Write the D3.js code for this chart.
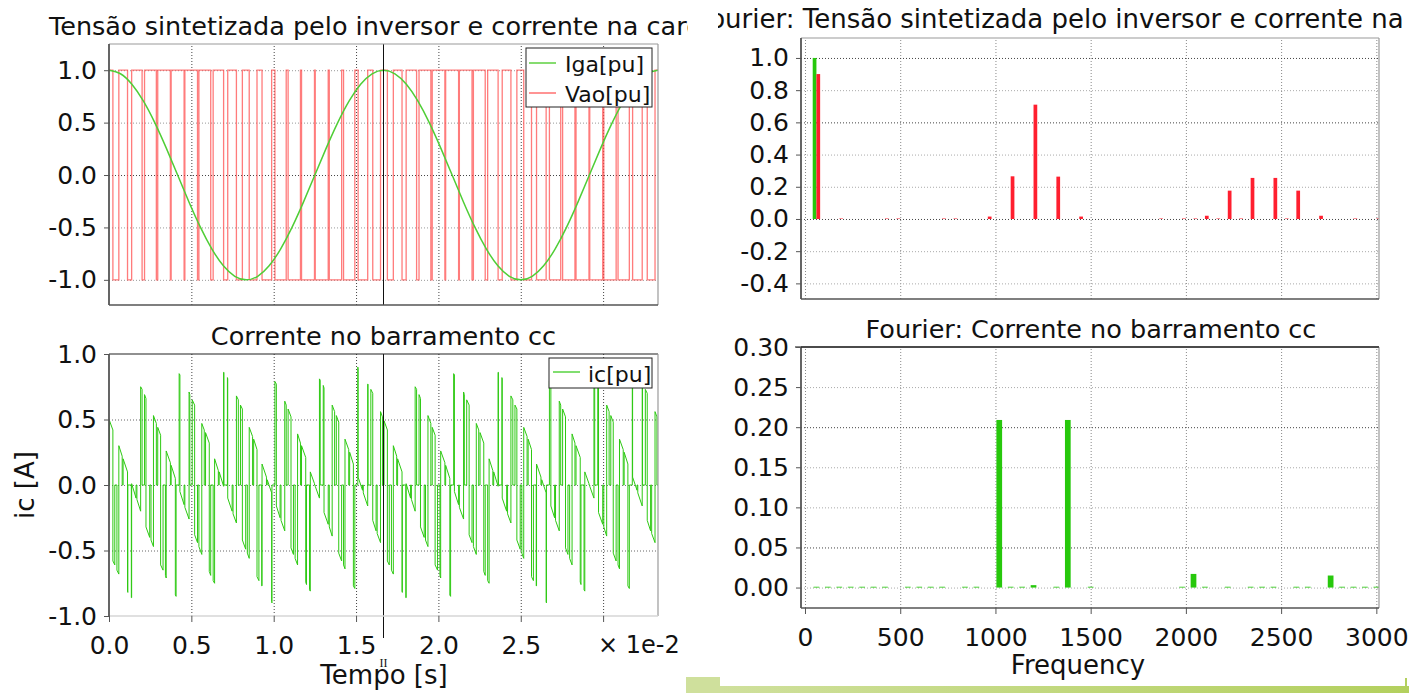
<!DOCTYPE html>
<html>
<head>
<meta charset="utf-8">
<script src="https://cdn.jsdelivr.net/npm/d3@7"></script>
<style>
  html, body { margin: 0; padding: 0; background: #fff; }
  svg { display: block; font-family: "DejaVu Sans", Verdana, sans-serif; }
</style>
</head>
<body>
<svg id="chart" width="1409" height="693"></svg>
<script>
// ---------------------------------------------------------------------------
// Data. Time-domain traces use electrical degrees of the 60 Hz fundamental
// (720 deg = two cycles = 3.333e-2 s).
// ---------------------------------------------------------------------------

// Load current Iga [pu], sampled every 15 deg
const igaDeg = [0,15,30,45,60,75,90,105,120,135,150,165,180,195,210,225,240,255,270,285,300,315,330,345,360,
                375,390,405,420,435,450,465,480,495,510,525,540,555,570,585,600,615,630,645,660,675,690,705,720];
const igaVal = [1,0.966,0.866,0.707,0.5,0.259,0,-0.259,-0.5,-0.707,-0.866,-0.966,-1,-0.966,-0.866,-0.707,-0.5,-0.259,0,0.259,0.5,0.707,0.866,0.966,1,
                0.966,0.866,0.707,0.5,0.259,0,-0.259,-0.5,-0.707,-0.866,-0.966,-1,-0.966,-0.866,-0.707,-0.5,-0.259,0,0.259,0.5,0.707,0.866,0.966,1];

// Inverter leg voltage Vao [pu]: intervals (start, end, in deg) where it sits at -1; +1 elsewhere
const vaoLowDeg = [
  [5.1,12.9],[24.3,29.7],[43.4,46.6],[62.1,63.9],[80.5,81.5],[98.5,99.5],[116.1,117.9],[133.4,136.6],
  [150.3,155.7],[167.1,174.9],[183.9,194.1],[200.7,213.3],[217.6,232.4],[234.9,251.1],[252.5,269.5],
  [270.5,287.5],[288.9,305.1],[307.6,322.4],[326.7,339.3],[345.9,356.1],
  [365.1,372.9],[384.3,389.7],[403.4,406.6],[422.1,423.9],[440.5,441.5],[458.5,459.5],[476.1,477.9],[493.4,496.6],
  [510.3,515.7],[527.1,534.9],[543.9,554.1],[560.7,573.3],[577.6,592.4],[594.9,611.1],[612.5,629.5],
  [630.5,647.5],[648.9,665.1],[667.6,682.4],[686.7,699.3],[705.9,716.1]
];

// DC-bus current ic [pu]: conduction pulses [startDeg, endDeg, startValue, endValue]; 0 between pulses
const icPulses = [
  [0.7,5.1,0.49,0.42],[5.1,7.6,-0.58,-0.61],[10.4,12.9,-0.65,-0.68],[12.9,17.3,0.30,0.22],
  [18.5,24.3,0.20,0.10],[24.3,24.7,-0.81,-0.82],[29.3,29.7,-0.86,-0.86],[29.7,35.5,0.01,-0.10],
  [36.6,41.5,-0.11,-0.20],[41.5,43.4,0.75,0.73],[46.6,48.5,0.69,0.66],[48.5,53.4,-0.32,-0.40],
  [55.1,58.3,-0.42,-0.47],[58.3,62.1,0.53,0.47],[63.9,67.7,0.44,0.38],[67.7,70.9,-0.61,-0.65],
  [74.0,75.0,-0.69,-0.71],[75.0,80.5,0.26,0.17],[81.5,87.0,0.15,0.05],[87.0,88.0,-0.84,-0.85],
  [92.0,93.0,0.85,0.84],[93.0,98.5,-0.05,-0.15],[99.5,105.0,-0.17,-0.26],[105.0,106.0,0.71,0.69],
  [109.1,112.3,0.65,0.61],[112.3,116.1,-0.38,-0.44],[117.9,121.7,-0.47,-0.53],[121.7,124.9,0.47,0.42],
  [126.6,131.5,0.40,0.32],[131.5,133.4,-0.66,-0.69],[136.6,138.5,-0.73,-0.75],[138.5,143.4,0.20,0.11],
  [144.5,150.3,0.10,-0.01],[150.3,150.7,0.86,0.86],[155.3,155.7,0.82,0.81],[155.7,161.5,-0.10,-0.20],
  [162.7,167.1,-0.22,-0.29],[167.1,169.6,0.68,0.65],[172.4,174.9,0.61,0.58],[174.9,179.3,-0.42,-0.49],
  [181.4,183.9,-0.52,-0.56],[183.9,188.3,0.44,0.37],[189.7,194.1,0.35,0.27],[194.1,196.6,-0.70,-0.73],
  [200.3,200.7,-0.77,-0.77],[200.7,206.5,0.16,0.06],[207.5,213.3,0.04,-0.06],[213.3,213.7,-0.89,-0.90],
  [217.6,219.5,0.79,0.77],[219.5,224.4,-0.16,-0.25],[225.6,230.5,-0.27,-0.35],[230.5,232.4,0.64,0.61],
  [234.9,238.7,0.58,0.52],[238.7,241.9,-0.48,-0.53],[244.1,247.3,-0.56,-0.61],[247.3,251.1,0.39,0.32],
  [252.5,258.0,0.30,0.21],[258.0,259.0,-0.74,-0.76],[263.0,264.0,-0.80,-0.81],[264.0,269.5,0.10,0.01],
  [270.5,276.0,-0.01,-0.10],[276.0,277.0,0.81,0.80],[281.0,282.0,0.76,0.74],[282.0,287.5,-0.21,-0.30],
  [288.9,292.7,-0.32,-0.39],[292.7,295.9,0.61,0.56],[298.1,301.3,0.53,0.48],[301.3,305.1,-0.52,-0.58],
  [307.6,309.5,-0.61,-0.64],[309.5,314.4,0.35,0.27],[315.6,320.5,0.25,0.16],[320.5,322.4,-0.77,-0.79],
  [326.3,326.7,0.90,0.89],[326.7,332.5,0.06,-0.04],[333.5,339.3,-0.06,-0.16],[339.3,339.7,0.77,0.77],
  [343.4,345.9,0.73,0.70],[345.9,350.3,-0.27,-0.35],[351.7,356.1,-0.37,-0.44],[356.1,358.6,0.56,0.52],
  [360.7,365.1,0.49,0.42],[365.1,367.6,-0.58,-0.61],[370.4,372.9,-0.65,-0.68],[372.9,377.3,0.30,0.22],
  [378.5,384.3,0.20,0.10],[384.3,384.7,-0.81,-0.82],[389.3,389.7,-0.86,-0.86],[389.7,395.5,0.01,-0.10],
  [396.6,401.5,-0.11,-0.20],[401.5,403.4,0.75,0.73],[406.6,408.5,0.69,0.66],[408.5,413.4,-0.32,-0.40],
  [415.1,418.3,-0.42,-0.47],[418.3,422.1,0.53,0.47],[423.9,427.7,0.44,0.38],[427.7,430.9,-0.61,-0.65],
  [434.0,435.0,-0.69,-0.71],[435.0,440.5,0.26,0.17],[441.5,447.0,0.15,0.05],[447.0,448.0,-0.84,-0.85],
  [452.0,453.0,0.85,0.84],[453.0,458.5,-0.05,-0.15],[459.5,465.0,-0.17,-0.26],[465.0,466.0,0.71,0.69],
  [469.1,472.3,0.65,0.61],[472.3,476.1,-0.38,-0.44],[477.9,481.7,-0.47,-0.53],[481.7,484.9,0.47,0.42],
  [486.6,491.5,0.40,0.32],[491.5,493.4,-0.66,-0.69],[496.6,498.5,-0.73,-0.75],[498.5,503.4,0.20,0.11],
  [504.5,510.3,0.10,-0.01],[510.3,510.7,0.86,0.86],[515.3,515.7,0.82,0.81],[515.7,521.5,-0.10,-0.20],
  [522.7,527.1,-0.22,-0.29],[527.1,529.6,0.68,0.65],[532.4,534.9,0.61,0.58],[534.9,539.3,-0.42,-0.49],
  [541.4,543.9,-0.52,-0.56],[543.9,548.3,0.44,0.37],[549.7,554.1,0.35,0.27],[554.1,556.6,-0.70,-0.73],
  [560.3,560.7,-0.77,-0.77],[560.7,566.5,0.16,0.06],[567.5,573.3,0.04,-0.06],[573.3,573.7,-0.89,-0.90],
  [577.6,579.5,0.79,0.77],[579.5,584.4,-0.16,-0.25],[585.6,590.5,-0.27,-0.35],[590.5,592.4,0.64,0.61],
  [594.9,598.7,0.58,0.52],[598.7,601.9,-0.48,-0.53],[604.1,607.3,-0.56,-0.61],[607.3,611.1,0.39,0.32],
  [612.5,618.0,0.30,0.21],[618.0,619.0,-0.74,-0.76],[623.0,624.0,-0.80,-0.81],[624.0,629.5,0.10,0.01],
  [630.5,636.0,-0.01,-0.10],[636.0,637.0,0.81,0.80],[641.0,642.0,0.76,0.74],[642.0,647.5,-0.21,-0.30],
  [648.9,652.7,-0.32,-0.39],[652.7,655.9,0.61,0.56],[658.1,661.3,0.53,0.48],[661.3,665.1,-0.52,-0.58],
  [667.6,669.5,-0.61,-0.64],[669.5,674.4,0.35,0.27],[675.6,680.5,0.25,0.16],[680.5,682.4,-0.77,-0.79],
  [686.3,686.7,0.90,0.89],[686.7,692.5,0.06,-0.04],[693.5,699.3,-0.06,-0.16],[699.3,699.7,0.77,0.77],
  [703.4,705.9,0.73,0.70],[705.9,710.3,-0.27,-0.35],[711.7,716.1,-0.37,-0.44],[716.1,718.6,0.56,0.52]
];

const cursorDeg = 360;

// Harmonic spectra (frequency in Hz, amplitude in pu)
const igaHarmHz  = [60];
const igaHarmAmp = [1.0];
const vaoHarmHz  = [60, 180, 420, 480, 720, 780, 960, 1080, 1200, 1320, 1440, 1860, 1980, 2040, 2100,
                    2160, 2220, 2280, 2340, 2460, 2520, 2580, 2700, 2880, 3000];
const vaoHarmAmp = [0.90, 0.003, 0.003, 0.003, 0.003, 0.003, 0.015, 0.265, 0.71, 0.263, 0.015, 0.003, 0.003, 0.003, 0.02,
                    0.003, 0.176, 0.003, 0.255, 0.255, 0.003, 0.176, 0.02, 0.003, 0.003];
const icHarmHz   = [60, 120, 180, 240, 300, 360, 420, 540, 600, 660, 720, 840, 900, 1020, 1080, 1140, 1200,
                    1320, 1380, 1500, 1980, 2040, 2100, 2220, 2340, 2400, 2460, 2580, 2640, 2760, 2820, 2880, 2940, 3000];
const icHarmAmp  = [0.001, 0.001, 0.001, 0.001, 0.001, 0.001, 0.001, 0.001, 0.001, 0.001, 0.001, 0.001, 0.001, 0.209, 0.001, 0.001, 0.003,
                    0.001, 0.209, 0.001, 0.001, 0.017, 0.001, 0.001, 0.001, 0.001, 0.001, 0.001, 0.001, 0.015, 0.001, 0.001, 0.001, 0.001];

// Axis ticks and labels
const timeTicks       = [0, 0.5, 1.0, 1.5, 2.0, 2.5, 3.0];          // x 1e-2 s
const timeTickLabels  = ["0.0", "0.5", "1.0", "1.5", "2.0", "2.5", ""];
const wfTicks         = [-1, -0.5, 0, 0.5, 1];
const wfTickLabels    = ["-1.0", "-0.5", "0.0", "0.5", "1.0"];
const freqTicks       = [0, 500, 1000, 1500, 2000, 2500, 3000];
const freqTickLabels  = ["0", "500", "1000", "1500", "2000", "2500", "3000"];
const vSpecTicks      = [-0.4, -0.2, 0, 0.2, 0.4, 0.6, 0.8, 1.0];
const vSpecTickLabels = ["-0.4", "-0.2", "0.0", "0.2", "0.4", "0.6", "0.8", "1.0"];
const iSpecTicks      = [0, 0.05, 0.10, 0.15, 0.20, 0.25, 0.30];
const iSpecTickLabels = ["0.00", "0.05", "0.10", "0.15", "0.20", "0.25", "0.30"];

// ---------------------------------------------------------------------------
// Layout
// ---------------------------------------------------------------------------
const TL = { x0: 109, x1: 658, y0: 44,  y1: 305 };
const BL = { x0: 109, x1: 658, y0: 354, y1: 616 };
const TR = { x0: 801, x1: 1379, y0: 38,  y1: 299 };
const BR = { x0: 801, x1: 1379, y0: 347, y1: 608 };

const RED = "#ff1f2f", GREEN = "#27c80c";
const TICK_FONT = 25, TITLE_FONT = 25.5;

const svg = d3.select("#chart");
const defs = svg.append("defs");
function clipRect(id, x, y, w, h) {
  defs.append("clipPath").attr("id", id).append("rect")
    .attr("x", x).attr("y", y).attr("width", w).attr("height", h);
}
clipRect("panelL", 0, 0, 688, 693);
clipRect("panelR", 718, 0, 691, 693);
[["cTL", TL], ["cBL", BL], ["cTR", TR], ["cBR", BR]].forEach(([id, r]) =>
  clipRect(id, r.x0, r.y0, r.x1 - r.x0, r.y1 - r.y0));

svg.append("rect").attr("width", 1409).attr("height", 693).attr("fill", "#fff");

const left = svg.append("g").attr("clip-path", "url(#panelL)");
const right = svg.append("g").attr("clip-path", "url(#panelR)");

// Scales
const degX  = d3.scaleLinear().domain([0, 720]).range([TL.x0, TL.x1]);
const timeX = d3.scaleLinear().domain([0, 10 / 3]).range([TL.x0, TL.x1]);
const yTL   = d3.scaleLinear().domain([-1.24, 1.25]).range([TL.y1, TL.y0]);
const yBL   = d3.scaleLinear().domain([-1, 1]).range([BL.y1, BL.y0]);
const fX    = d3.scaleLinear().domain([-21, 3014]).range([TR.x0, TR.x1]);
const yTR   = d3.scaleLinear().domain([-0.497, 1.124]).range([TR.y1, TR.y0]);
const yBR   = d3.scaleLinear().domain([-0.0255, 0.30]).range([BR.y1, BR.y0]);

// Dotted grid lines drawn with axis generators
function gridX(g, r, scale, values, color) {
  g.append("g").attr("transform", `translate(0,${r.y1})`)
    .call(d3.axisBottom(scale).tickValues(values).tickSize(-(r.y1 - r.y0)).tickFormat(""))
    .call(a => a.select(".domain").remove())
    .call(a => a.selectAll("line").attr("stroke", color).attr("stroke-dasharray", "1,2"));
}
function gridY(g, r, scale, values, colorFn) {
  g.append("g").attr("transform", `translate(${r.x0},0)`)
    .call(d3.axisLeft(scale).tickValues(values).tickSize(-(r.x1 - r.x0)).tickFormat(""))
    .call(a => a.select(".domain").remove())
    .call(a => a.selectAll("line").attr("stroke", d => colorFn(d)).attr("stroke-dasharray", "1,2"));
}
function yAxis(g, r, scale, values, labels) {
  g.append("g").attr("transform", `translate(${r.x0},0)`)
    .call(d3.axisLeft(scale).tickValues(values).tickSize(5).tickPadding(7)
      .tickFormat((d, i) => labels[i]))
    .call(a => a.select(".domain").remove())
    .call(a => a.selectAll("line").attr("stroke", "#555"))
    .call(a => a.selectAll("text").attr("font-size", TICK_FONT).attr("fill", "#111")
      .attr("font-family", "DejaVu Sans"));
}
function xAxis(g, r, scale, values, labels) {
  g.append("g").attr("transform", `translate(0,${r.y1})`)
    .call(d3.axisBottom(scale).tickValues(values).tickSize(6).tickPadding(14)
      .tickFormat((d, i) => labels[i]))
    .call(a => a.select(".domain").remove())
    .call(a => a.selectAll("line").attr("stroke", "#555"))
    .call(a => a.selectAll("text").attr("font-size", TICK_FONT).attr("fill", "#111")
      .attr("font-family", "DejaVu Sans"));
}
function border(g, r, topColor, bottomColor) {
  const L = (x1, y1, x2, y2, c, w) => g.append("line").attr("x1", x1).attr("y1", y1)
    .attr("x2", x2).attr("y2", y2).attr("stroke", c).attr("stroke-width", w);
  L(r.x0, r.y0, r.x1, r.y0, topColor, 1.2);
  L(r.x1, r.y0, r.x1, r.y1, "#9a9a9a", 1.2);
  L(r.x0, r.y1, r.x1, r.y1, bottomColor, 1.6);
  L(r.x0, r.y0, r.x0, r.y1, "#555", 1.8);
}
function title(g, text, x, y, size) {
  g.append("text").attr("x", x).attr("y", y).attr("text-anchor", "middle")
    .attr("font-size", size || TITLE_FONT).attr("fill", "#111").text(text);
}

// ---------------------------------------------------------------------------
// Top-left: Vao and Iga
// ---------------------------------------------------------------------------
gridX(left, TL, timeX, timeTicks.slice(1), "#444");
gridY(left, TL, yTL, wfTicks, d => d === 0 ? "#444" : "#999");

const vaoPts = [[0, 1]];
vaoLowDeg.forEach(([a, b]) => vaoPts.push([a, 1], [a, -1], [b, -1], [b, 1]));
vaoPts.push([720, 1]);

const lineTL = d3.line().x(d => degX(d[0])).y(d => yTL(d[1]));
const dTL = left.append("g").attr("clip-path", "url(#cTL)");
dTL.append("path").attr("d", lineTL(vaoPts)).attr("fill", "none")
  .attr("stroke", "#ff4a4a").attr("stroke-opacity", 0.72).attr("stroke-width", 1.3);
dTL.append("path")
  .attr("d", d3.line().curve(d3.curveNatural).x((d, i) => degX(igaDeg[i])).y(d => yTL(d))(igaVal))
  .attr("fill", "none").attr("stroke", "#4fce36").attr("stroke-width", 1.5);
dTL.append("line").attr("x1", degX(cursorDeg)).attr("x2", degX(cursorDeg))
  .attr("y1", TL.y0).attr("y2", TL.y1).attr("stroke", "#111").attr("stroke-width", 1);

border(left, TL, "#9a9a9a", "#555");
yAxis(left, TL, yTL, wfTicks, wfTickLabels);
title(left, "Tensão sintetizada pelo inversor e corrente na carga", 383.5, 35);

// legend
const lgT = left.append("g");
lgT.append("rect").attr("x", 526).attr("y", 48).attr("width", 126).attr("height", 59)
  .attr("fill", "#fff").attr("stroke", "#222").attr("stroke-width", 1);
[["Iga[pu]", "#86dc70", 63, 72], ["Vao[pu]", "#ff9494", 93, 102]].forEach(([t, c, ly, ty]) => {
  lgT.append("line").attr("x1", 529).attr("x2", 556).attr("y1", ly).attr("y2", ly)
    .attr("stroke", c).attr("stroke-width", 2);
  lgT.append("text").attr("x", 565).attr("y", ty).attr("font-size", 22).attr("fill", "#111").text(t);
});

// ---------------------------------------------------------------------------
// Bottom-left: DC-bus current
// ---------------------------------------------------------------------------
gridX(left, BL, timeX, timeTicks.slice(1), "#444");
gridY(left, BL, yBL, [-0.5, 0, 0.5], d => d === 0 ? "#777" : "#666");

const icPts = [[0, 0]];
let lastT = 0, lastV = 0;
icPulses.forEach(([t0, t1, v0, v1]) => {
  if (t0 > lastT) {
    if (lastV !== 0) icPts.push([lastT, 0]);
    icPts.push([t0, 0]);
  }
  icPts.push([t0, v0], [t1, v1]);
  lastT = t1; lastV = v1;
});
icPts.push([lastT, 0], [720, 0]);

const dBL = left.append("g").attr("clip-path", "url(#cBL)");
dBL.append("path").attr("d", d3.line().x(d => degX(d[0])).y(d => yBL(d[1]))(icPts))
  .attr("fill", "none").attr("stroke", "#2dc912").attr("stroke-width", 1);
left.append("line").attr("x1", degX(cursorDeg)).attr("x2", degX(cursorDeg))
  .attr("y1", BL.y0).attr("y2", BL.y1 + 22).attr("stroke", "#111").attr("stroke-width", 1);

border(left, BL, "#222", "#d6d6d6");
yAxis(left, BL, yBL, wfTicks, wfTickLabels);
xAxis(left, BL, timeX, timeTicks, timeTickLabels);
title(left, "Corrente no barramento cc", 383.5, 345);

left.append("text").attr("x", 598).attr("y", 653).attr("font-size", 24).attr("fill", "#111")
  .text("× 1e-2");
left.append("text").attr("x", degX(cursorDeg)).attr("y", 667).attr("text-anchor", "middle")
  .attr("font-family", "Liberation Serif").attr("font-size", 12).attr("fill", "#111").text("II");
left.append("text").attr("x", 384).attr("y", 684).attr("text-anchor", "middle")
  .attr("font-size", 26).attr("fill", "#111").text("Tempo [s]");
left.append("text").attr("transform", "translate(34,485) rotate(-90)").attr("text-anchor", "middle")
  .attr("font-size", 26).attr("fill", "#111").text("ic [A]");

const lgB = left.append("g");
lgB.append("rect").attr("x", 549).attr("y", 358).attr("width", 103).attr("height", 30)
  .attr("fill", "#fff").attr("stroke", "#222").attr("stroke-width", 1);
lgB.append("line").attr("x1", 553).attr("x2", 580).attr("y1", 372).attr("y2", 372)
  .attr("stroke", "#2dc912").attr("stroke-width", 1.2);
lgB.append("text").attr("x", 588).attr("y", 382).attr("font-size", 22).attr("fill", "#111").text("ic[pu]");

// ---------------------------------------------------------------------------
// Top-right: spectra of Vao and Iga
// ---------------------------------------------------------------------------
gridX(right, TR, fX, freqTicks, "#888");
gridY(right, TR, yTR, vSpecTicks, d => (d === 0 || d === 0.6 || d === 1) ? "#444" : "#aaa");

const dTR = right.append("g").attr("clip-path", "url(#cTR)");
const halfBin = 19.5;
dTR.selectAll("rect.iga").data(igaHarmHz).join("rect").attr("class", "iga")
  .attr("x", f => fX(f - halfBin)).attr("width", f => fX(f) - fX(f - halfBin))
  .attr("y", (f, i) => yTR(igaHarmAmp[i])).attr("height", (f, i) => yTR(0) - yTR(igaHarmAmp[i]))
  .attr("fill", GREEN);
dTR.selectAll("rect.vao").data(vaoHarmHz).join("rect").attr("class", "vao")
  .attr("x", f => fX(f)).attr("width", f => fX(f + halfBin) - fX(f))
  .attr("y", (f, i) => yTR(vaoHarmAmp[i])).attr("height", (f, i) => yTR(0) - yTR(vaoHarmAmp[i]))
  .attr("fill", RED);

border(right, TR, "#9a9a9a", "#555");
yAxis(right, TR, yTR, vSpecTicks, vSpecTickLabels);
title(right, "Fourier: Tensão sintetizada pelo inversor e corrente na carga", 1090, 28, 26);

// ---------------------------------------------------------------------------
// Bottom-right: spectrum of the DC-bus current
// ---------------------------------------------------------------------------
gridX(right, BR, fX, freqTicks, "#888");
gridY(right, BR, yBR, iSpecTicks.slice(0, 6), d => (d === 0.2 || d === 0.05) ? "#444" : "#aaa");

const dBR = right.append("g").attr("clip-path", "url(#cBR)");
const icBin = 15;
dBR.selectAll("rect.ic").data(icHarmHz).join("rect").attr("class", "ic")
  .attr("x", f => fX(f - icBin)).attr("width", f => fX(f + icBin) - fX(f - icBin))
  .attr("y", (f, i) => yBR(icHarmAmp[i])).attr("height", (f, i) => yBR(0) - yBR(icHarmAmp[i]))
  .attr("fill", GREEN);

border(right, BR, "#111", "#555");
right.append("line").attr("x1", 795).attr("x2", BR.x1).attr("y1", BR.y0).attr("y2", BR.y0)
  .attr("stroke", "#111").attr("stroke-width", 1.2);
yAxis(right, BR, yBR, iSpecTicks, iSpecTickLabels);
xAxis(right, BR, fX, freqTicks, freqTickLabels);
title(right, "Fourier: Corrente no barramento cc", 1091, 338);
right.append("text").attr("x", 1078).attr("y", 674).attr("text-anchor", "middle")
  .attr("font-size", 26).attr("fill", "#111").text("Frequency");

// ---------------------------------------------------------------------------
// Slide footer accent
// ---------------------------------------------------------------------------
const grad = defs.append("linearGradient").attr("id", "footer").attr("x1", 0).attr("x2", 1);
grad.append("stop").attr("offset", 0).attr("stop-color", "#cfe09c");
grad.append("stop").attr("offset", 1).attr("stop-color", "#b3d05e");
svg.append("rect").attr("x", 686).attr("y", 677).attr("width", 34).attr("height", 16).attr("fill", "#cfe09c");
svg.append("rect").attr("x", 720).attr("y", 686).attr("width", 689).attr("height", 7).attr("fill", "url(#footer)");
svg.append("rect").attr("x", 1405).attr("y", 678).attr("width", 2).attr("height", 15).attr("fill", "#b3d05e");
</script>
</body>
</html>
